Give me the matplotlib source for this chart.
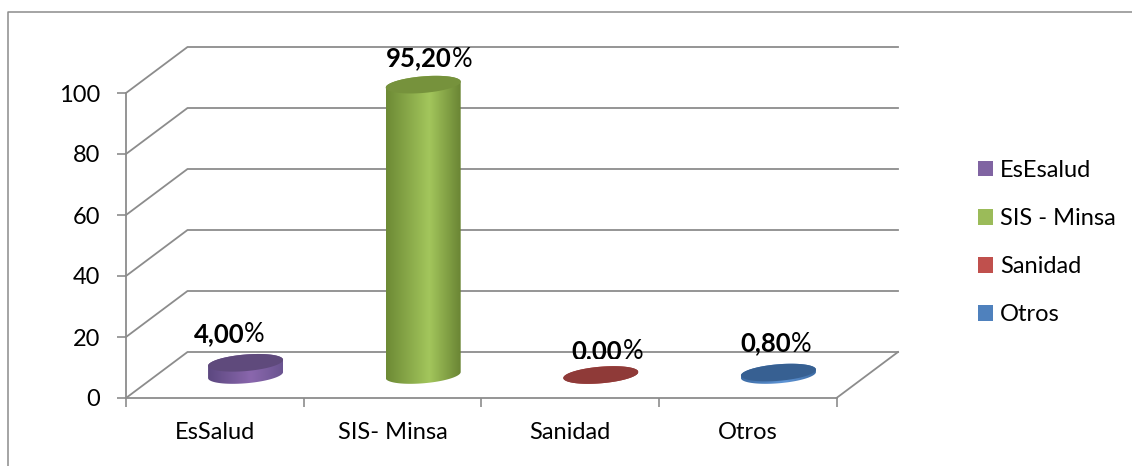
import numpy as np
import matplotlib
matplotlib.use('Agg')
import matplotlib.pyplot as plt
from matplotlib.colors import LinearSegmentedColormap
from matplotlib.lines import Line2D
from matplotlib.patches import Patch, Rectangle
from matplotlib.path import Path

plt.rcParams['font.family'] = ['Lato', 'DejaVu Sans']

categories = ['EsSalud', 'SIS- Minsa', 'Sanidad', 'Otros']
values = [4.0, 95.2, 0.0, 0.8]
value_labels = ['4,00', '95,20', '0,00', '0,80']
legend_labels = ['EsEsalud', 'SIS - Minsa', 'Sanidad', 'Otros']
yticks = [0, 20, 40, 60, 80, 100]

legend_colors = ['#8064a2', '#9bbb59', '#c0504d', '#4f81bd']
top_colors = ['#5f4a7c', '#76923c', '#8f3a38', '#376092']
side_colors = [
    ['#5c4880', '#8a67ad', '#6a5490'],
    ['#6d8a35', '#a3c65c', '#6a8534'],
    ['#8f3a38', '#c0504d', '#8f3a38'],
    ['#3d6ca5', '#5f95d6', '#3d6ca5'],
]

W, H = 1132, 466
GRID = '#8c8c8c'

# front plane of the fake 3d box, in pixels
X0, X1, Y0, Y100 = 126.0, 836.5, 398.0, 93.0
px_x = 4 / (X1 - X0)
px_y = 100 / (Y0 - Y100)

depth_x = 61.5 * px_x
depth_y = 46 * px_y

fig = plt.figure(figsize=(W / 100, H / 100), dpi=100, facecolor='white')
ax = fig.add_axes([X0 / W, 1 - Y0 / H, (X1 - X0) / W, (Y0 - Y100) / H])
ax.set_facecolor('none')

# outer chart border, right and bottom fall outside the crop
fig.add_artist(Line2D([7.5 / W, 7.5 / W, 1], [0, 1 - 11.5 / H, 1 - 11.5 / H],
                      color=GRID, lw=1.1))

# gridlines: front edge -> back wall
for v in yticks:
    ax.plot([0, depth_x, 4 + depth_x], [v, v + depth_y, v + depth_y],
            color=GRID, lw=1.3, clip_on=False, zorder=1)
ax.plot([4, 4 + depth_x], [0, depth_y], color=GRID, lw=1.3, clip_on=False, zorder=1)


def ellipse(cx, cy, t):
    a = 37.5 * px_x
    b = 8.3 * px_y
    k = 3.0 * px_y
    return np.column_stack([cx + a * np.cos(t), cy + b * np.sin(t) + k * np.cos(t)])


grad = np.linspace(0, 1, 128).reshape(1, -1)
base = depth_y / 2

for i, v in enumerate(values):
    cx = i + 0.5 + depth_x / 2
    top = base + v

    upper = ellipse(cx, top, np.linspace(0, np.pi, 60))
    lower = ellipse(cx, base, np.linspace(np.pi, 2 * np.pi, 60))
    outline = Path(np.vstack([upper, lower, upper[:1]]), closed=True)

    cmap = LinearSegmentedColormap.from_list(
        'side', list(zip([0, 0.58, 1], side_colors[i])))
    a = 37.5 * px_x
    im = ax.imshow(grad, cmap=cmap, aspect='auto', zorder=2, interpolation='bilinear',
                   extent=[cx - a, cx + a, base - 4, top + 4])
    im.set_clip_box(fig.bbox)
    im.set_clip_path(outline, transform=ax.transData)

    ax.fill(*ellipse(cx, top, np.linspace(0, 2 * np.pi, 120)).T,
            color=top_colors[i], lw=0, clip_on=False, zorder=3)

ax.set_xlim(0, 4)
ax.set_ylim(0, 100)

# data labels, bold number + regular percent sign
label_dx = [-52, -37, -29, -38]
label_dy = [21, 18, 16, 21]
renderer = fig.canvas.get_renderer()
for i, v in enumerate(values):
    cx = i + 0.5 + depth_x / 2
    num = ax.annotate(value_labels[i], xy=(cx, base + v),
                      xytext=(label_dx[i], label_dy[i]), textcoords='offset pixels',
                      fontsize=18.5, fontweight='bold', color='black',
                      ha='left', va='baseline', annotation_clip=False, zorder=5)
    w = num.get_window_extent(renderer).width
    pct = ax.annotate('%', xy=(cx, base + v),
                      xytext=(label_dx[i] + w, label_dy[i]), textcoords='offset pixels',
                      fontsize=18.5, color='black',
                      ha='left', va='baseline', annotation_clip=False, zorder=5)
    if v == 0:
        # the 0,00 label is cut off at the bottom
        keep = Rectangle((0, (H - 358.5) / H), 1, 1, transform=fig.transFigure)
        num.set_clip_path(keep)
        pct.set_clip_path(keep)
        num.set_clip_on(True)
        pct.set_clip_on(True)

# axes
for s in ['top', 'right']:
    ax.spines[s].set_visible(False)
for s in ['left', 'bottom']:
    ax.spines[s].set_color(GRID)
    ax.spines[s].set_linewidth(1.3)
    ax.spines[s].set_zorder(1)

ax.set_yticks(yticks)
ax.set_xticks(range(5))
ax.set_xticklabels([])
ax.set_xticks(np.arange(4) + 0.5, categories, minor=True)
ax.tick_params(axis='y', length=6.2, width=1.2, color=GRID, labelsize=17, pad=12.5)
ax.tick_params(axis='x', which='major', length=6.5, width=1.2, color=GRID)
ax.tick_params(axis='x', which='minor', length=0, labelsize=17, pad=17.5)
for t in ax.get_yticklabels():
    t.set_va('center_baseline')

handles = [Patch(facecolor=c, edgecolor='none') for c in legend_colors]
fig.legend(handles, legend_labels, loc='upper left',
           bbox_to_anchor=(978 / W, 1 - 160 / H), bbox_transform=fig.transFigure,
           frameon=False, fontsize=17, borderpad=0, borderaxespad=0,
           handlelength=0.635, handleheight=0.635, handletextpad=0.3, labelspacing=1.15)

fig.savefig('out.png', dpi=100, facecolor='white')
